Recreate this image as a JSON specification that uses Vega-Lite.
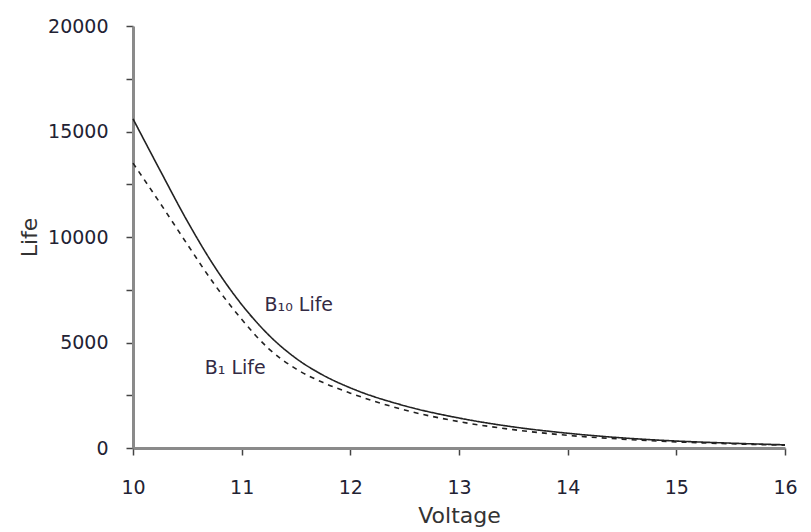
{
  "$schema": "https://vega.github.io/schema/vega-lite/v6.json",
  "autosize": "none",
  "width": 652,
  "height": 422,
  "padding": {"left": 133, "top": 26, "right": 26, "bottom": 84},
  "background": "white",
  "config": {"view": {"stroke": null}, "font": "DejaVu Sans"},
  "datasets": {
    "curves": [
      {"voltage": 10, "life": 15600, "series": "B10"},
      {"voltage": 10.25, "life": 13150, "series": "B10"},
      {"voltage": 10.5, "life": 10750, "series": "B10"},
      {"voltage": 10.75, "life": 8600, "series": "B10"},
      {"voltage": 11, "life": 6800, "series": "B10"},
      {"voltage": 11.25, "life": 5350, "series": "B10"},
      {"voltage": 11.5, "life": 4250, "series": "B10"},
      {"voltage": 11.75, "life": 3450, "series": "B10"},
      {"voltage": 12, "life": 2850, "series": "B10"},
      {"voltage": 12.5, "life": 2000, "series": "B10"},
      {"voltage": 13, "life": 1420, "series": "B10"},
      {"voltage": 13.5, "life": 1000, "series": "B10"},
      {"voltage": 14, "life": 700, "series": "B10"},
      {"voltage": 14.5, "life": 480, "series": "B10"},
      {"voltage": 15, "life": 330, "series": "B10"},
      {"voltage": 15.5, "life": 230, "series": "B10"},
      {"voltage": 16, "life": 150, "series": "B10"},
      {"voltage": 10, "life": 13500, "series": "B1"},
      {"voltage": 10.25, "life": 11600, "series": "B1"},
      {"voltage": 10.5, "life": 9650, "series": "B1"},
      {"voltage": 10.75, "life": 7750, "series": "B1"},
      {"voltage": 11, "life": 6100, "series": "B1"},
      {"voltage": 11.25, "life": 4700, "series": "B1"},
      {"voltage": 11.5, "life": 3750, "series": "B1"},
      {"voltage": 11.75, "life": 3100, "series": "B1"},
      {"voltage": 12, "life": 2600, "series": "B1"},
      {"voltage": 12.5, "life": 1800, "series": "B1"},
      {"voltage": 13, "life": 1250, "series": "B1"},
      {"voltage": 13.5, "life": 870, "series": "B1"},
      {"voltage": 14, "life": 600, "series": "B1"},
      {"voltage": 14.5, "life": 420, "series": "B1"},
      {"voltage": 15, "life": 290, "series": "B1"},
      {"voltage": 15.5, "life": 200, "series": "B1"},
      {"voltage": 16, "life": 130, "series": "B1"}
    ],
    "labels": [
      {"voltage": 11.21, "life": 6780, "text": "B₁₀ Life"},
      {"voltage": 10.66, "life": 3790, "text": "B₁ Life"}
    ]
  },
  "layer": [
    {
      "data": {"name": "curves"},
      "mark": {"type": "line", "interpolate": "monotone", "strokeWidth": 1.6, "color": "#222222"},
      "encoding": {
        "x": {"field": "voltage", "type": "quantitative", "scale": {"domain": [10, 16], "nice": false},
          "axis": {"title": "Voltage", "values": [10, 10.5, 11, 11.5, 12, 12.5, 13, 13.5, 14, 14.5, 15, 15.5, 16],
            "labelExpr": "datum.value % 1 === 0 ? datum.label : ''", "format": "d", "labelFlush": false, "labelOverlap": false,
            "domainColor": "#8a8a8a", "domainWidth": 3, "tickColor": "#444444", "tickWidth": 1.5, "tickSize": 7,
            "labelFontSize": 19, "labelColor": "#222233", "labelPadding": 23, "labelFont": "DejaVu Sans",
            "titleFontSize": 22, "titleFontWeight": "normal", "titleColor": "#333333", "titlePadding": 8, "titleFont": "DejaVu Sans", "grid": false}},
        "y": {"field": "life", "type": "quantitative", "scale": {"domain": [0, 20000], "nice": false},
          "axis": {"title": "Life", "values": [0, 2500, 5000, 7500, 10000, 12500, 15000, 17500, 20000],
            "labelExpr": "datum.value % 5000 === 0 ? datum.label : ''", "format": "d", "labelOverlap": false,
            "domainColor": "#8a8a8a", "domainWidth": 3, "tickColor": "#444444", "tickWidth": 1.5, "tickSize": 7,
            "labelFontSize": 19, "labelColor": "#222233", "labelPadding": 18, "labelFont": "DejaVu Sans",
            "titleFontSize": 22, "titleFontWeight": "normal", "titleColor": "#333333", "titlePadding": 6, "titleFont": "DejaVu Sans", "grid": false}},
        "strokeDash": {"field": "series", "type": "nominal", "scale": {"domain": ["B10", "B1"], "range": [[1, 0], [5, 5]]}, "legend": null},
        "detail": {"field": "series"}
      }
    },
    {
      "data": {"name": "labels"},
      "mark": {"type": "text", "align": "left", "baseline": "middle", "fontSize": 19, "font": "DejaVu Sans", "color": "#332a44"},
      "encoding": {
        "x": {"field": "voltage", "type": "quantitative"},
        "y": {"field": "life", "type": "quantitative"},
        "text": {"field": "text"}
      }
    }
  ]
}
